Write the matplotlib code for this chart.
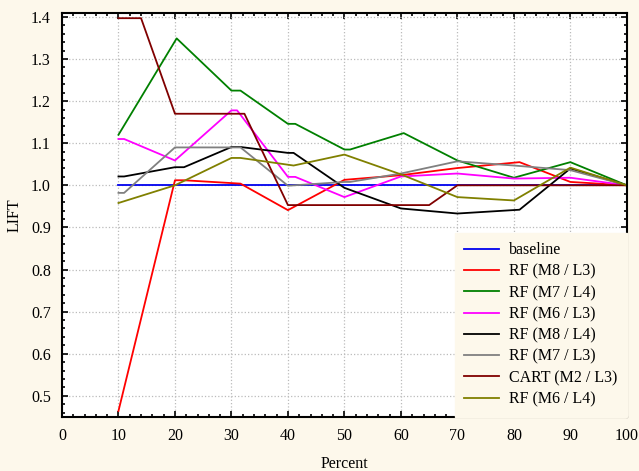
import matplotlib
matplotlib.use("Agg")
import matplotlib.pyplot as plt
from matplotlib.ticker import MultipleLocator

plt.rcParams['font.family'] = ['Liberation Serif', 'DejaVu Serif']

bg = '#FDF8EB'

labels = ['baseline', 'RF (M8 / L3)', 'RF (M7 / L4)', 'RF (M6 / L3)', 'RF (M8 / L4)',
          'RF (M7 / L3)', 'CART (M2 / L3)', 'RF (M6 / L4)']
colors = ['#0000EE', '#FF0000', '#008000', '#FF00FF', '#000000', '#808080', '#800000', '#808000']

x_baseline = [10, 100]
y_baseline = [1.0, 1.0]

x_rf_m8_l3 = [10, 20, 21.6, 31.6, 40, 50, 60, 70, 81, 90, 100]
y_rf_m8_l3 = [0.464, 1.012, 1.012, 1.004, 0.941, 1.013, 1.024, 1.041, 1.055, 1.008, 1.0]

x_rf_m7_l4 = [10, 20.3, 30, 31.6, 40, 41.3, 50, 51, 60.5, 70, 80, 90, 100]
y_rf_m7_l4 = [1.12, 1.349, 1.225, 1.225, 1.146, 1.146, 1.085, 1.085, 1.124, 1.059, 1.018, 1.055, 1.0]

x_rf_m6_l3 = [10, 11, 20, 30, 31, 40, 41.3, 50, 60, 70, 80, 90, 100]
y_rf_m6_l3 = [1.11, 1.11, 1.059, 1.178, 1.178, 1.02, 1.02, 0.972, 1.021, 1.028, 1.016, 1.018, 1.0]

x_rf_m8_l4 = [10, 11, 20, 21.6, 30, 31.6, 40, 41, 50, 60, 70, 81, 90, 100]
y_rf_m8_l4 = [1.021, 1.021, 1.043, 1.043, 1.091, 1.091, 1.077, 1.077, 0.994, 0.945, 0.933, 0.942, 1.04, 1.0]

x_rf_m7_l3 = [10, 11, 20, 31.6, 40, 50, 51, 60, 70, 80, 90, 100]
y_rf_m7_l3 = [0.982, 0.982, 1.09, 1.09, 0.999, 1.008, 1.008, 1.028, 1.057, 1.047, 1.036, 1.0]

x_cart = [10, 14, 20, 32.3, 40, 65, 70, 100]
y_cart = [1.397, 1.397, 1.17, 1.17, 0.953, 0.953, 1.0, 1.0]

x_rf_m6_l4 = [10, 20, 30, 31.6, 41, 50, 60, 70, 80, 90, 100]
y_rf_m6_l4 = [0.958, 1.0, 1.065, 1.065, 1.047, 1.073, 1.026, 0.972, 0.964, 1.042, 1.0]

series = [(x_baseline, y_baseline), (x_rf_m8_l3, y_rf_m8_l3), (x_rf_m7_l4, y_rf_m7_l4),
          (x_rf_m6_l3, y_rf_m6_l3), (x_rf_m8_l4, y_rf_m8_l4), (x_rf_m7_l3, y_rf_m7_l3),
          (x_cart, y_cart), (x_rf_m6_l4, y_rf_m6_l4)]

fig = plt.figure(figsize=(6.39, 4.71), dpi=100, facecolor=bg)
ax = fig.add_axes([0.097, 0.115, 0.884, 0.858])
ax.set_facecolor('white')

for (xs, ys), lab, c in zip(series, labels, colors):
    ax.plot(xs, ys, color=c, lw=1.3, label=lab)

ax.set_xlim(0, 100)
ax.set_ylim(0.45, 1.41)
ax.xaxis.set_major_locator(MultipleLocator(10))
ax.xaxis.set_minor_locator(MultipleLocator(2))
ax.yaxis.set_major_locator(MultipleLocator(0.1))
ax.yaxis.set_minor_locator(MultipleLocator(0.02))
ax.yaxis.set_major_formatter(matplotlib.ticker.FormatStrFormatter('%.1f'))
ax.tick_params(which='both', direction='in', top=True, right=True, labelsize=11.5, width=1.2)
ax.tick_params(which='major', length=4, pad=8)
ax.tick_params(which='minor', length=2.5)
for s in ax.spines.values():
    s.set_linewidth(1.5)
ax.grid(True, which='major', linestyle=':', color='#BBBBBB', lw=0.9)

ax.set_xlabel('Percent', fontsize=11.5, labelpad=9)
ax.set_ylabel('LIFT', fontsize=11.5, labelpad=6)

leg = ax.legend(loc='lower right', fontsize=11.5, frameon=True, fancybox=False,
                borderaxespad=0.0, handlelength=2.2, handletextpad=0.6,
                labelspacing=0.33, borderpad=0.6)
leg.get_frame().set_facecolor(bg)
leg.get_frame().set_edgecolor(bg)
leg.get_frame().set_alpha(1)
for l in leg.get_lines():
    l.set_linewidth(1.3)

fig.savefig('out.png', dpi=100, facecolor=bg)
